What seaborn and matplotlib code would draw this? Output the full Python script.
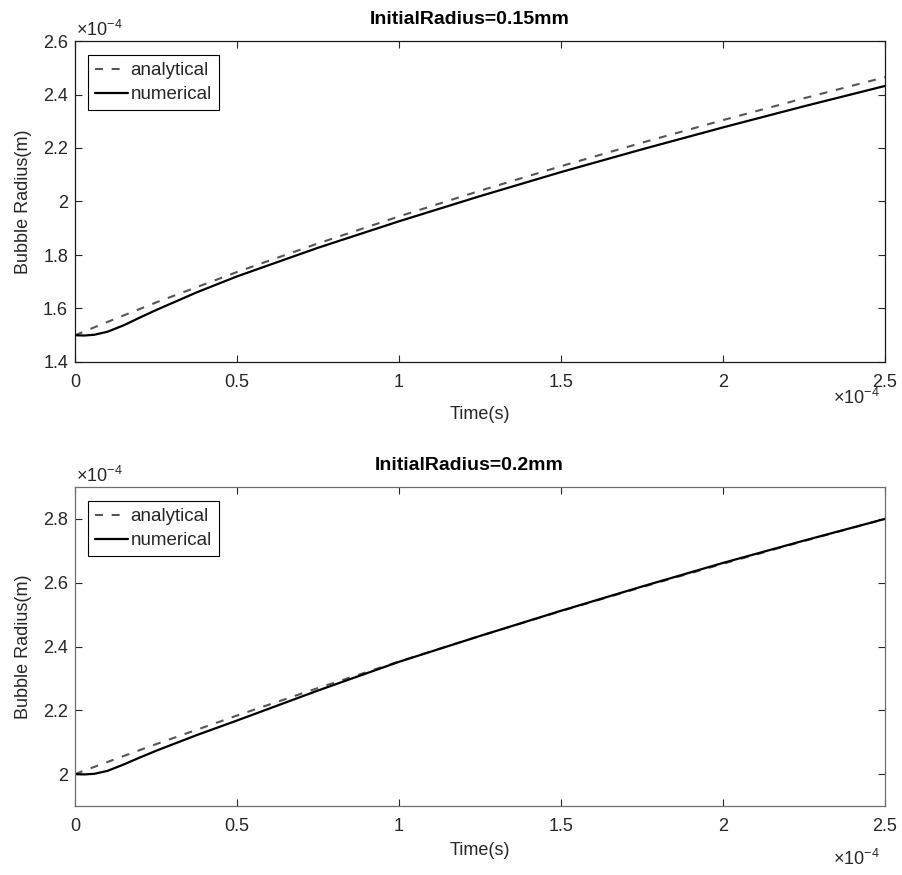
import matplotlib
matplotlib.use("Agg")
import matplotlib.pyplot as plt
from matplotlib.ticker import FuncFormatter
import numpy as np
import pandas as pd
import seaborn as sns

# ---- data (time and radius in units of 1e-4) ----
time_analytical = [0, 0.125, 0.25, 0.5, 0.75, 1.0, 1.25, 1.5, 1.75, 2.0, 2.25, 2.5]
r015_analytical = [1.500, 1.562, 1.6225, 1.7364, 1.8432, 1.9442, 2.0402, 2.1319,
                   2.2198, 2.3043, 2.3859, 2.4648]
r020_analytical = [2.000, 2.0474, 2.0938, 2.1836, 2.2698, 2.3529, 2.4331, 2.5108,
                   2.5861, 2.6593, 2.7306, 2.800]

time_numerical = [0, 0.03, 0.06, 0.1, 0.15, 0.2, 0.25, 0.375, 0.5, 0.75, 1.0,
                  1.25, 1.5, 1.75, 2.0, 2.25, 2.5]
r015_numerical = [1.500, 1.499, 1.502, 1.513, 1.537, 1.566, 1.594, 1.660, 1.720,
                  1.827, 1.926, 2.020, 2.110, 2.195, 2.277, 2.356, 2.432]
r020_numerical = [2.000, 1.999, 2.001, 2.010, 2.030, 2.052, 2.073, 2.122, 2.168,
                  2.262, 2.352, 2.433, 2.512, 2.588, 2.662, 2.732, 2.800]

titles = ["InitialRadius=0.15mm", "InitialRadius=0.2mm"]
ylims = [(1.4, 2.6), (1.9, 2.9)]
yticks = [[1.4, 1.6, 1.8, 2.0, 2.2, 2.4, 2.6], [2.0, 2.2, 2.4, 2.6, 2.8]]
xticks = [0, 0.5, 1.0, 1.5, 2.0, 2.5]
SCALE = 1e-4

sns.set_theme(style="white")
plt.rcParams["font.family"] = ["Liberation Sans", "DejaVu Sans"]
plt.rcParams["mathtext.fontset"] = "custom"
plt.rcParams["mathtext.rm"] = "Liberation Sans"
plt.rcParams["mathtext.it"] = "Liberation Sans"

fig = plt.figure(figsize=(9.02, 8.75), dpi=100)
W, H = 902, 875
boxes = [(75, 41, 885, 362), (75, 487, 885, 806)]
frame_colors = ["#1a1a1a", "#6e6e6e"]
xlabel_pads = [11, 5]
xoff_y = [-19, -31]

an_df = [pd.DataFrame({"t": np.array(time_analytical) * SCALE,
                       "r": np.array(r) * SCALE}) for r in (r015_analytical, r020_analytical)]
nu_df = [pd.DataFrame({"t": np.array(time_numerical) * SCALE,
                       "r": np.array(r) * SCALE}) for r in (r015_numerical, r020_numerical)]

fmt = FuncFormatter(lambda v, p: f"{v / SCALE:g}")

for i, (l, t, r, b) in enumerate(boxes):
    ax = fig.add_axes([l / W, 1 - b / H, (r - l) / W, (b - t) / H])
    sns.lineplot(data=an_df[i], x="t", y="r", ax=ax, color="#555555",
                 linewidth=1.5, linestyle=(0, (3.8, 4.2)), label="analytical")
    sns.lineplot(data=nu_df[i], x="t", y="r", ax=ax, color="black",
                 linewidth=1.6, label="numerical")
    ax.set_xlim(0, 2.5 * SCALE)
    ax.set_ylim(ylims[i][0] * SCALE, ylims[i][1] * SCALE)
    ax.set_xticks(np.array(xticks) * SCALE)
    ax.set_yticks(np.array(yticks[i]) * SCALE)
    ax.xaxis.set_major_formatter(fmt)
    ax.yaxis.set_major_formatter(fmt)
    ax.tick_params(axis="both", direction="in", length=5, width=0.8,
                   labelsize=13, colors="#262626", top=True, right=True,
                   bottom=True, left=True)
    ax.tick_params(axis="x", pad=8.5)
    ax.tick_params(axis="y", pad=5)
    for s in ax.spines.values():
        s.set_color(frame_colors[i])
        s.set_linewidth(0.9)
    ax.set_xlabel("Time(s)", fontsize=13, color="#262626", labelpad=xlabel_pads[i])
    ax.set_ylabel("Bubble Radius(m)", fontsize=13, color="#262626", labelpad=8)
    ax.set_title(titles[i], fontsize=14, fontweight="bold", color="black",
                 pad=12, x=0.487)
    leg = ax.legend(loc="upper left", bbox_to_anchor=(13 / 810, 1 - 14 / (b - t)),
                    borderaxespad=0, frameon=True, fancybox=False,
                    edgecolor="black", framealpha=1, fontsize=13.5,
                    handlelength=1.75, handletextpad=0.15, labelspacing=0.37,
                    borderpad=0.37)
    leg.get_frame().set_linewidth(0.8)
    # exponent labels (MATLAB style)
    ax.annotate(r"$\times10^{-4}$", xy=(0, 1), xycoords="axes fraction",
                xytext=(1, 1), textcoords="offset points", ha="left", va="bottom",
                fontsize=13, color="#262626")
    ax.annotate(r"$\times10^{-4}$", xy=(1, 0), xycoords="axes fraction",
                xytext=(-4, xoff_y[i]), textcoords="offset points",
                ha="right", va="top", fontsize=13, color="#262626")

fig.savefig("out.png", dpi=100)
